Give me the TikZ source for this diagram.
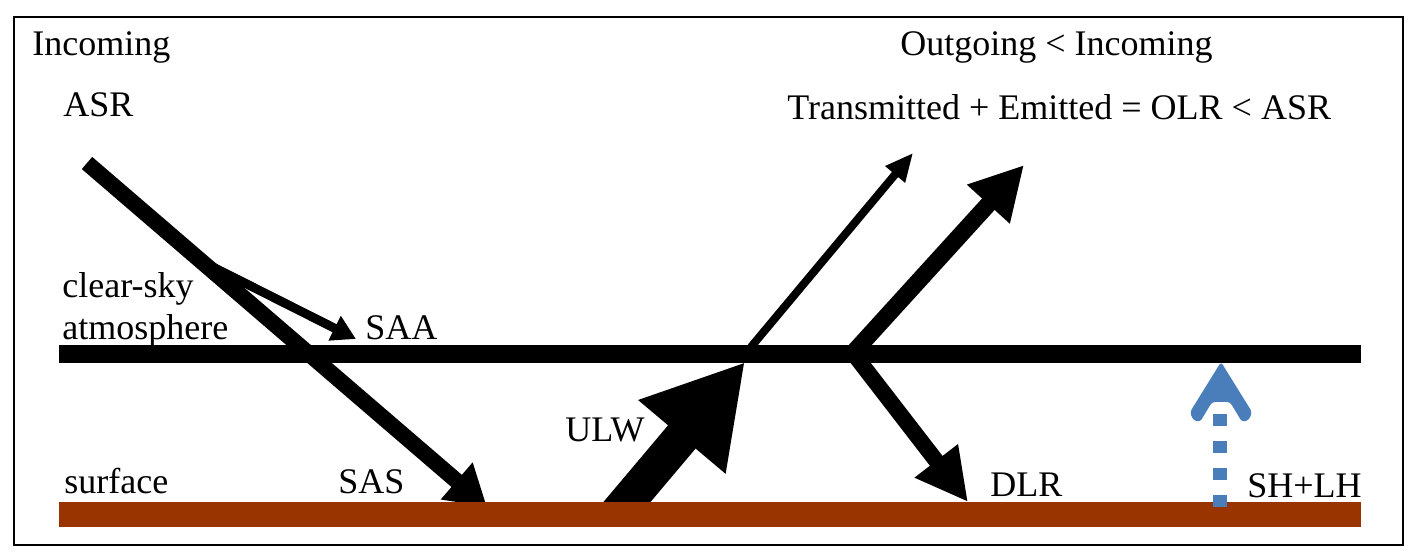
\documentclass[tikz,border=0pt]{standalone}
\usepackage{fontspec}
\setmainfont{Liberation Serif}
\usetikzlibrary{arrows.meta}
\definecolor{soil}{HTML}{993300}
\definecolor{fluxblue}{HTML}{4A7EBB}
\begin{document}
\begin{tikzpicture}[x=0.5pt,y=-0.5pt,
  lbl/.style={inner sep=0pt, anchor=base west, font=\fontsize{18}{21}\selectfont},
  ray/.style={line width=#1, line cap=butt}]
\useasboundingbox (0,0) rectangle (1417,560);
\draw[line width=0.9pt] (14,17) rectangle (1403,545);

% coordinates
\coordinate (asr0) at (87,163);
\coordinate (split) at (205,263);
\coordinate (sasT) at (487,507);
\coordinate (saaT) at (356,339);
\coordinate (ulw0) at (616,515);
\coordinate (ulwT) at (745,362);
\coordinate (tr0) at (751,347);
\coordinate (trT) at (913,153);
\coordinate (em0) at (853,353);
\coordinate (emT) at (1024,165);
\coordinate (dlrT) at (968,502);
\coordinate (sh0) at (1220,414);
\coordinate (sh1) at (1220,508);

% atmosphere bar
\fill[black] (59,345) rectangle (1361,363);

% shortwave
\draw[ray=8pt, -{Triangle[length=20pt,width=23pt]}] (asr0) -- (sasT);
\draw[ray=4.5pt, -{Triangle[length=12pt,width=13pt]}] (split) -- (saaT);

% longwave
\draw[ray=18pt, -{Triangle[length=49pt,width=53.5pt]}] (ulw0) -- (ulwT);
\draw[ray=4pt, -{Triangle[length=14pt,width=12pt]}] (tr0) -- (trT);
\draw[ray=8.5pt, -{Triangle[length=26.5pt,width=27pt]}] (em0) -- (emT);
\draw[ray=8pt, -{Triangle[length=26pt,width=25.5pt]}] (em0) -- (dlrT);

% surface bar
\fill[soil] (59,502) rectangle (1361,527);

% sensible + latent heat
\draw[fluxblue, line width=7pt, dash pattern=on 6pt off 7.5pt] (sh0) -- (sh1);
\fill[fluxblue, rounded corners=1.5pt] (1221,362) -- (1190,412) -- (1193,420) -- (1200,422)
  -- (1212,402) -- (1230,402) -- (1242,422) -- (1249,420) -- (1252,412) -- cycle;

% labels
\node[lbl] (incoming) at (32,56) {Incoming};
\node[lbl] (asr) at (63,117) {ASR};
\node[lbl] (outgoing) at (900,56) {Outgoing < Incoming};
\node[lbl] (trans) at (787,120) {Transmitted + Emitted = OLR < ASR};
\node[lbl] (clear) at (62,298) {clear-sky};
\node[lbl] (atm) at (62,340) {atmosphere};
\node[lbl] (saa) at (365,340) {SAA};
\node[lbl] (ulw) at (565,442) {ULW};
\node[lbl] (surf) at (64,494) {surface};
\node[lbl] (sas) at (338,494) {SAS};
\node[lbl] (dlr) at (990,496) {DLR};
\node[lbl] (shlh) at (1247,497) {SH+LH};
\end{tikzpicture}
\end{document}
